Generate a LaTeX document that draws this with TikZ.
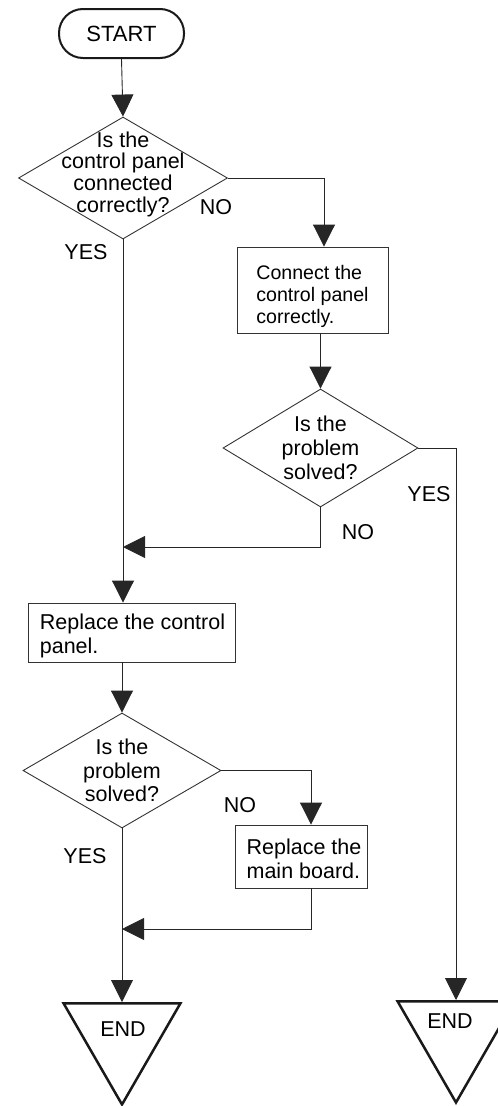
\documentclass[tikz,border=0pt]{standalone}
\usepackage{fontspec}
\setmainfont{Liberation Sans}
\usetikzlibrary{shapes.geometric}
\usetikzlibrary{arrows.meta}

\begin{document}
\begin{tikzpicture}[x=1pt,y=-1pt,
 flow/.style={draw=black!85,line width=0.9pt,-{Triangle[length=22pt,width=22pt]}},
 terminal/.style={draw=black!90,line width=2pt,rounded corners=24pt,minimum width=125pt,minimum height=49pt,inner sep=0pt,font=\fontsize{22}{24}\selectfont},
 decision/.style={diamond,draw=black!80,line width=0.9pt,inner sep=0pt},
 qtext/.style={align=center,inner sep=0pt,font=\fontsize{21.5}{23.7}\selectfont},
 process/.style={rectangle,draw=black!80,line width=0.9pt,inner sep=0pt},
 ptext/.style={align=left,inner sep=0pt,font=\fontsize{21.5}{24}\selectfont},
 finish/.style={regular polygon,regular polygon sides=3,shape border rotate=180,draw=black!90,line width=2.5pt,minimum size=135pt,inner sep=0pt},
 answer/.style={inner sep=0pt,font=\fontsize{21.5}{24}\selectfont}]
 \useasboundingbox (0,0) rectangle (498,1106);
 \clip (0,0) rectangle (498,1106);

 \node[terminal] (start) at (121.5,33.5) {START};
 \node[decision,minimum width=209pt,minimum height=122pt,
  label={[qtext,font=\fontsize{21.5}{21.7}\selectfont,yshift=4pt]center:Is the\\control panel\\connected\\correctly?}] (q1) at (123,178) {};
 \node[process,minimum width=151pt,minimum height=86pt,
  label={[ptext,font=\fontsize{19.6}{22}\selectfont,yshift=-6pt]center:Connect the\\control panel\\correctly.}] (fix) at (312.5,290) {};
 \node[decision,minimum width=195pt,minimum height=118pt,
  label={[qtext]center:Is the\\problem\\solved?}] (q2) at (320.5,448) {};
 \node[process,minimum width=207pt,minimum height=59pt,
  label={[ptext,xshift=1pt,yshift=-3pt]center:Replace the control\\panel.}] (replace) at (131.5,632.5) {};
 \node[decision,minimum width=198pt,minimum height=115pt,
  label={[qtext]center:Is the\\problem\\solved?}] (q3) at (122,770.5) {};
 \node[process,minimum width=132pt,minimum height=63pt,
  label={[ptext,xshift=3pt,yshift=-2.5pt]center:Replace the\\main board.}] (board) at (301,856.5) {};
 \node[finish,label={[answer,xshift=1pt,yshift=8pt]center:END}] (end1) at (122,1037) {};
 \node[finish,label={[answer,xshift=-6pt,yshift=14pt]center:END}] (end2) at (456,1035) {};

 \coordinate (join1) at (123,547);
 \coordinate (join2) at (122,929);

 \node[answer] (no1) at (216,207) {NO};
 \node[answer] (yes1) at (86,252) {YES};
 \node[answer] (yes2) at (429,494) {YES};
 \node[answer] (no2) at (358,532) {NO};
 \node[answer] (no3) at (240,805) {NO};
 \node[answer] (yes3) at (85,856) {YES};

 \draw[flow] (start.south) -- (q1.north);
 \draw[flow] (q1.east) -| ([xshift=11.5pt]fix.north);
 \draw[flow] (fix.south -| q2.north) -- (q2.north);
 \draw[flow] (q2.east) -| (end2.north);
 \draw[flow] (q2.south) |- (join1);
 \draw[flow] (q1.south) -- (q1.south |- replace.north);
 \draw[flow] (replace.south -| q3.north) -- (q3.north);
 \draw[flow] (q3.east) -| ([xshift=10pt]board.north);
 \draw[flow] ([xshift=10pt]board.south) |- (join2);
 \draw[flow] (q3.south) -- (end1.north);
\end{tikzpicture}
\end{document}
